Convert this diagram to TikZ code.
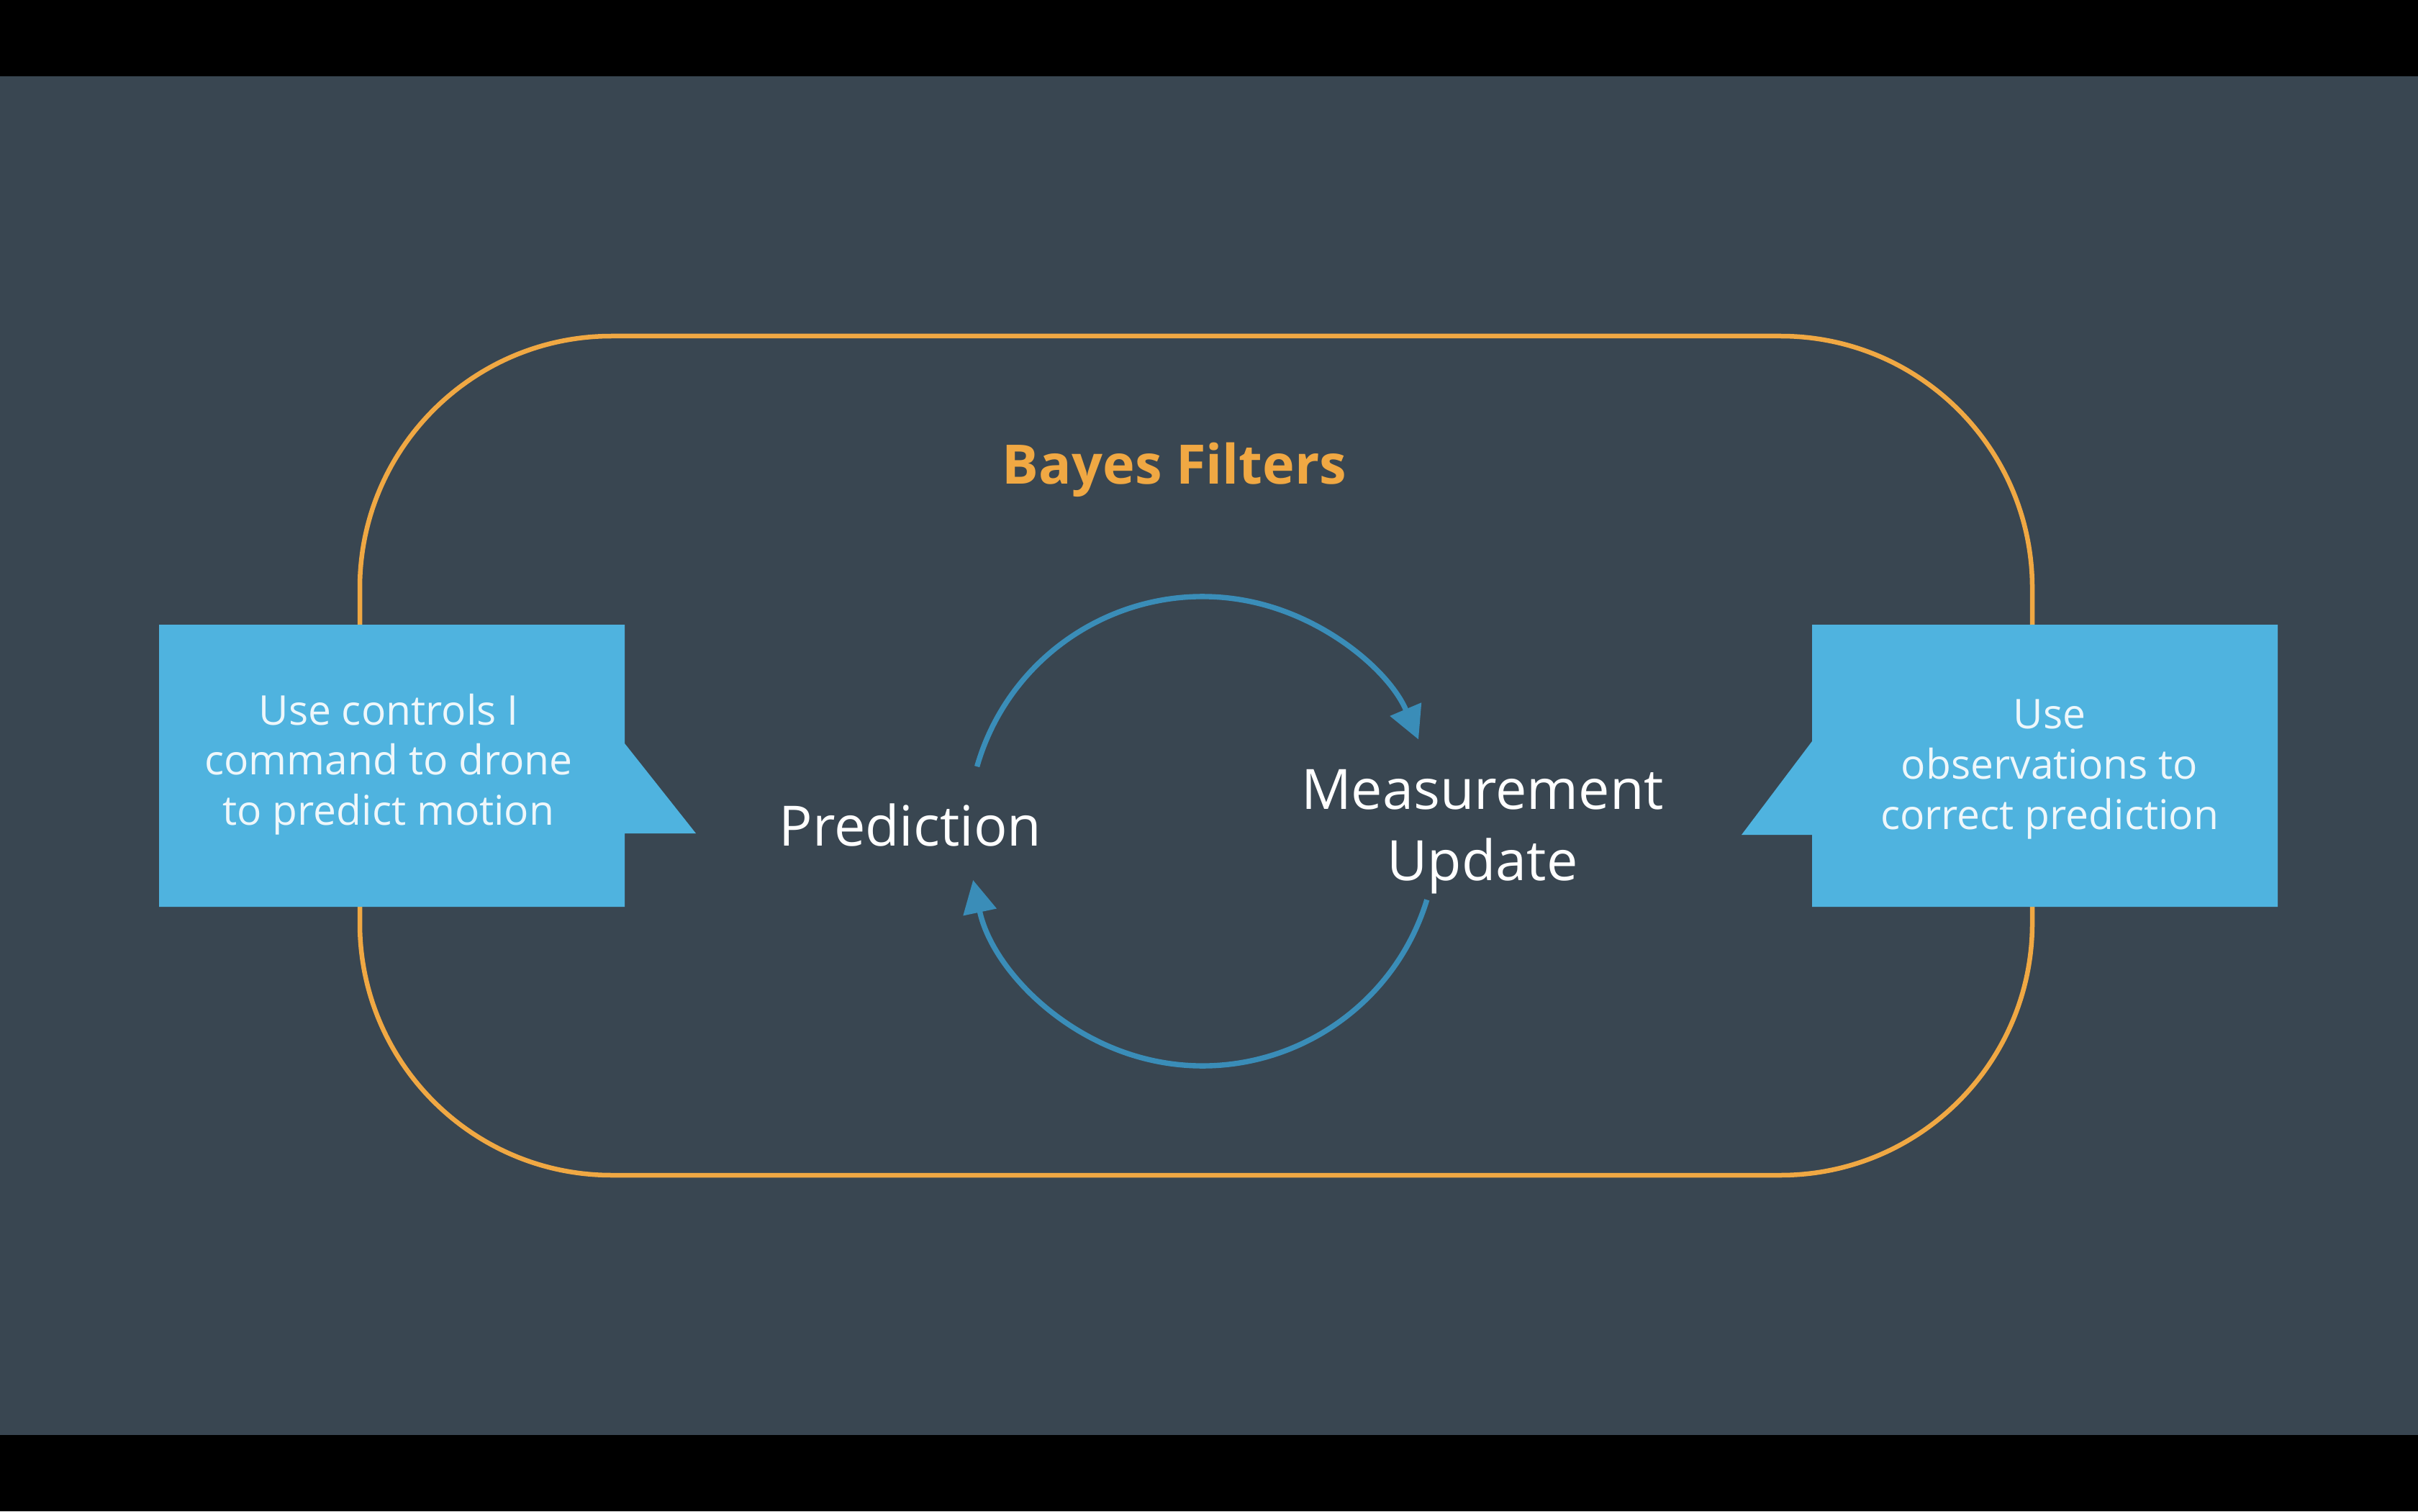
\documentclass[tikz,border=0pt]{standalone}
\usepackage{fontspec}
\setmainfont{Open Sans}
\usetikzlibrary{calc,arrows.meta}
\definecolor{slate}{HTML}{394651}
\definecolor{amber}{HTML}{F0A843}
\definecolor{sky}{HTML}{4FB3DF}
\definecolor{loopblue}{HTML}{3A8DB8}
\definecolor{paper}{HTML}{EEF7FB}
\def\looparc[#1](#2)(#3:#4:#5){\draw[#1] ($(#2)+({#5*cos(#3)},{#5*sin(#3)})$) arc (#3:#4:#5);}

\begin{document}
\begin{tikzpicture}
		%%%%% START %%%%%
		
		\useasboundingbox (0, 0) rectangle (33.6, 21);
		\fill[slate] (0, 0) rectangle (33.6, 21);
		\fill[black] (0, 19.94) rectangle (33.6, 21);
		\fill[black] (0, 0) rectangle (33.6, 1.06);
		
		\draw[line width=1.85pt, color=amber, rounded corners=3.5cm] (5.0, 4.67) rectangle (28.24, 16.33);
		
		\fill[sky] (2.21, 8.40) -- (2.21, 12.32) -- (8.68, 12.32) -- (8.68, 10.67) -- (9.67, 9.42) -- (8.68, 9.42) -- (8.68, 8.40) -- cycle;
		\fill[sky] (31.65, 8.40) -- (31.65, 12.32) -- (25.18, 12.32) -- (25.18, 10.70) -- (24.20, 9.40) -- (25.18, 9.40) -- (25.18, 8.40) -- cycle;
		
		\node[color=paper, align=center, font=\fontsize{16.2}{19.8}\selectfont] (controls) at (5.40, 10.38) {Use controls I\\command to drone\\to predict motion};
		\node[color=paper, align=center, font=\fontsize{16.2}{19.8}\selectfont] (observe) at (28.48, 10.31) {Use\\observations to\\correct prediction};
		
		\node[anchor=base, color=amber, font=\fontsize{21.5}{26}\selectfont\bfseries] (title) at (16.32, 14.28) {Bayes Filters};
		
		\node[anchor=base, color=white, font=\fontsize{22}{28}\selectfont] (predict) at (12.65, 9.25) {Prediction};
		\node[align=center, color=white, font=\fontsize{22}{28.2}\selectfont] (update) at (20.60, 9.44) {Measurement\\Update};
		
		\coordinate (hub) at (16.71, 9.45);
		\looparc[line width=2.1pt, color=loopblue, -{Triangle[length=13pt, width=13pt]}](hub)(164:23:3.26)
		\looparc[line width=2.1pt, color=loopblue, -{Triangle[length=13pt, width=13pt]}](hub)(-17:-168:3.26)
		
		%%%%% END %%%%%
\end{tikzpicture}
\end{document}
